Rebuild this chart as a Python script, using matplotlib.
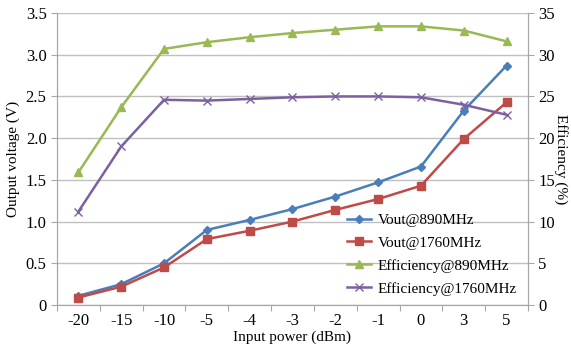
import numpy as np
import matplotlib.pyplot as plt

plt.rcParams['font.family'] = ['Liberation Serif', 'DejaVu Serif']

# data
power = ['-20', '-15', '-10', '-5', '-4', '-3', '-2', '-1', '0', '3', '5']
vout_890 = [0.11, 0.25, 0.50, 0.90, 1.02, 1.15, 1.30, 1.47, 1.66, 2.33, 2.87]
vout_1760 = [0.09, 0.22, 0.45, 0.79, 0.89, 1.00, 1.14, 1.27, 1.43, 1.99, 2.43]
eff_890 = [15.9, 23.7, 30.7, 31.5, 32.1, 32.6, 33.0, 33.4, 33.4, 32.9, 31.6]
eff_1760 = [11.2, 19.0, 24.6, 24.5, 24.7, 24.9, 25.0, 25.0, 24.9, 24.0, 22.8]

x = np.arange(len(power))
grey = '#a6a6a6'

fig = plt.figure(figsize=(5.71, 3.47), dpi=100)
ax = fig.add_axes([0.0998, 0.121, 0.8249, 0.8415])
ax2 = ax.twinx()

l1, = ax.plot(x, vout_890, color='#4a7ebb', marker='D', markersize=4, lw=1.8, label='Vout@890MHz')
l2, = ax.plot(x, vout_1760, color='#be4b48', marker='s', markersize=6, lw=1.8, label='Vout@1760MHz')
l3, = ax2.plot(x, eff_890, color='#98b954', marker='^', markersize=6, lw=1.8, label='Efficiency@890MHz')
l4, = ax2.plot(x, eff_1760, color='#7d60a0', marker='x', markersize=6, lw=1.8, mew=1, label='Efficiency@1760MHz')

ax.set_xlim(-0.5, len(power) - 0.5)
ax.set_ylim(0, 3.5)
ax2.set_ylim(0, 35)
ax.set_yticks(np.arange(0, 3.51, 0.5))
ax.set_yticklabels(['0'] + ['%.1f' % v for v in np.arange(0.5, 3.51, 0.5)])
ax2.set_yticks(np.arange(0, 36, 5))

ax.set_xticks(np.arange(-0.5, len(power), 1.0))
ax.set_xticklabels([])
ax.set_xticks(x, minor=True)
ax.set_xticklabels(power, minor=True)
ax.tick_params(axis='x', which='major', length=4, color=grey)
ax.tick_params(axis='x', which='minor', length=0, labelsize=12, pad=6)
ax.tick_params(axis='y', length=4, color=grey, labelsize=12)
ax2.tick_params(axis='y', length=4, color=grey, labelsize=12)

ax.grid(axis='y', color='#c0c0c0', lw=1)
ax.set_axisbelow(True)
for a in (ax, ax2):
    for s in a.spines.values():
        s.set_color(grey)
ax.spines['top'].set_visible(False)
ax2.spines['top'].set_visible(False)

ax.set_xlabel('Input power (dBm)', fontsize=11, labelpad=1)
ax.set_ylabel('Output voltage (V)', fontsize=11, labelpad=4)
ax2.set_ylabel('Efficiency (%)', fontsize=11, rotation=-90, va='center', ha='center')
ax2.yaxis.set_label_coords(1.07, 0.5)

ax2.legend(handles=[l1, l2, l3, l4], loc='lower right', bbox_to_anchor=(1.005, -0.015),
           frameon=False, fontsize=11, handlelength=1.6, handletextpad=0.4, labelspacing=0.6)

fig.savefig('out.png', dpi=100)
